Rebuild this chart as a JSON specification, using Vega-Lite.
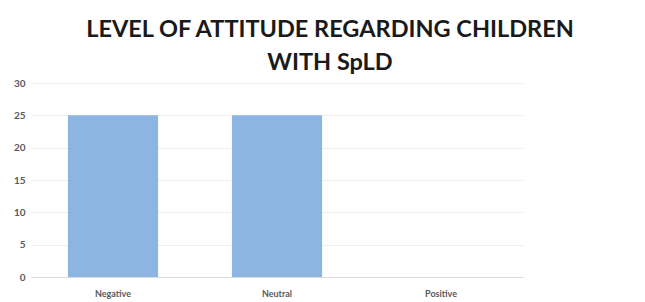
{
  "$schema": "https://vega.github.io/schema/vega-lite/v6.json",
  "autosize": "none",
  "width": 492,
  "height": 194,
  "padding": {"left": 31, "top": 83, "right": 122, "bottom": 25},
  "background": "white",
  "title": {
    "text": ["LEVEL OF ATTITUDE REGARDING CHILDREN", "WITH SpLD"],
    "font": "Lato",
    "fontSize": 23.5,
    "fontWeight": "bold",
    "color": "#1a1a1a",
    "lineHeight": 33,
    "anchor": "middle",
    "dx": 53,
    "offset": 4
  },
  "data": {
    "values": [
      {"level": "Negative", "count": 25},
      {"level": "Neutral", "count": 25},
      {"level": "Positive", "count": 0}
    ]
  },
  "mark": {"type": "bar", "color": "#8DB5E2"},
  "encoding": {
    "x": {
      "field": "level",
      "type": "nominal",
      "sort": null,
      "scale": {"paddingInner": 0.45, "paddingOuter": 0.225},
      "axis": {
        "title": null,
        "labelAngle": 0,
        "labelFont": "Lato",
        "labelFontSize": 9,
        "labelFontWeight": "bold",
        "labelColor": "#595959",
        "labelPadding": 12,
        "ticks": false,
        "domainColor": "#d9d9d9",
        "domainWidth": 1
      }
    },
    "y": {
      "field": "count",
      "type": "quantitative",
      "scale": {"domain": [0, 30]},
      "axis": {
        "title": null,
        "values": [0, 5, 10, 15, 20, 25, 30],
        "labelFont": "Lato",
        "labelFontSize": 10,
        "labelFontWeight": "bold",
        "labelColor": "#595959",
        "labelPadding": 6,
        "ticks": false,
        "domain": false,
        "gridColor": "#efefef",
        "gridWidth": 1
      }
    }
  },
  "config": {"view": {"stroke": null}}
}
